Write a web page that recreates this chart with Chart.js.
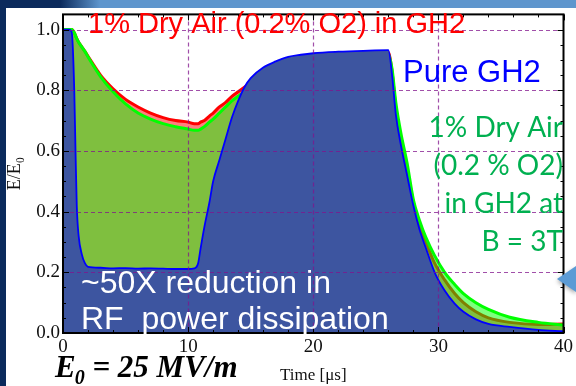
<!DOCTYPE html>
<html>
<head>
<meta charset="utf-8">
<script src="https://cdn.jsdelivr.net/npm/chart.js@4.4.0/dist/chart.umd.min.js"></script>
<style>
  html, body { margin: 0; padding: 0; background: #0b2a5c; }
  #wrap { position: relative; width: 576px; height: 386px; }
</style>
</head>
<body>
<div id="wrap"><canvas id="decayChart" width="576" height="386"></canvas></div>
<script>
// time axis in microseconds, shared by the three traces
const timeUs = [0, 0.5, 0.7, 0.9, 1.0, 1.1, 1.25, 1.5, 1.75, 2, 3, 4, 5, 6, 7, 8, 9, 10, 10.5, 10.8,
  11, 11.3, 11.7, 12, 12.5, 13, 13.5, 14, 14.5, 15, 16, 17, 18, 19, 20, 22, 24, 26, 26.3, 26.6,
  27, 27.5, 28, 28.5, 29, 29.7, 30.5, 31.3, 32, 33, 34, 35.7, 38, 40];

// E/E0, pure hydrogen
const pureGH2 = [1.0, 1.0, 0.99, 0.8, 0.6, 0.42, 0.32, 0.26, 0.23, 0.218, 0.215, 0.213, 0.214, 0.212, 0.213, 0.212, 0.211, 0.211, 0.213, 0.23,
  0.28, 0.35, 0.43, 0.50, 0.57, 0.64, 0.71, 0.765, 0.81, 0.84, 0.875, 0.895, 0.91, 0.917, 0.922, 0.927, 0.93, 0.932, 0.85, 0.72,
  0.62, 0.52, 0.42, 0.34, 0.28, 0.20, 0.14, 0.097, 0.07, 0.045, 0.03, 0.02, 0.01, 0.006];

// E/E0, 1% dry air (0.2% O2) in hydrogen
const dryAirO2 = [1.0, 1.0, 1.0, 0.99, 0.98, 0.97, 0.958, 0.943, 0.928, 0.912, 0.85, 0.805, 0.77, 0.745, 0.725, 0.71, 0.70, 0.695, 0.69, 0.69,
  0.695, 0.70, 0.715, 0.725, 0.745, 0.76, 0.78, 0.795, 0.81, 0.825, 0.855, 0.875, 0.89, 0.90, 0.905, 0.915, 0.92, 0.925, 0.86, 0.74,
  0.64, 0.54, 0.43, 0.355, 0.30, 0.23, 0.175, 0.13, 0.10, 0.07, 0.05, 0.035, 0.028, 0.03];

// E/E0, same gas mixture at B = 3T
const dryAir3T = [1.0, 1.0, 1.0, 0.99, 0.98, 0.97, 0.958, 0.943, 0.928, 0.91, 0.845, 0.795, 0.755, 0.725, 0.705, 0.69, 0.68, 0.672, 0.668, 0.668,
  0.672, 0.68, 0.695, 0.705, 0.725, 0.745, 0.765, 0.78, 0.795, 0.805, 0.835, 0.855, 0.87, 0.88, 0.89, 0.90, 0.91, 0.918, 0.87, 0.76,
  0.66, 0.56, 0.44, 0.37, 0.315, 0.255, 0.20, 0.16, 0.13, 0.10, 0.078, 0.052, 0.035, 0.026];

const xTicks = [0, 10, 20, 30, 40];
const yTicks = [0, 0.2, 0.4, 0.6, 0.8, 1.0];

const toPoints = vals => vals.map((v, i) => ({ x: timeUs[i], y: v }));

// slide background: navy edge, blue header strip, white panel
const backdrop = {
  id: 'backdrop',
  beforeDraw(chart) {
    const ctx = chart.ctx;
    ctx.save();
    ctx.fillStyle = '#0b2a5c';
    ctx.fillRect(0, 0, 576, 386);
    const g = ctx.createLinearGradient(60, 0, 100, 0);
    g.addColorStop(0, 'rgba(95,150,205,0)');
    g.addColorStop(1, 'rgba(95,150,205,1)');
    ctx.fillStyle = g;
    ctx.fillRect(60, 0, 516, 8);
    ctx.fillStyle = '#ffffff';
    ctx.fillRect(6, 8, 570, 378);
    ctx.restore();
  }
};

// dashed grid, framed box with inward ticks
const frame = {
  id: 'frame',
  afterDatasetsDraw(chart) {
    const { ctx, chartArea: a, scales: { x, y } } = chart;
    ctx.save();
    ctx.setLineDash([4, 3]);
    ctx.lineWidth = 1.2;
    ctx.strokeStyle = 'rgba(130,20,140,0.75)';
    xTicks.slice(1, -1).forEach(t => {
      const px = Math.round(x.getPixelForValue(t)) + 0.5;
      ctx.beginPath(); ctx.moveTo(px, a.top); ctx.lineTo(px, a.bottom); ctx.stroke();
    });
    yTicks.slice(1).forEach(t => {
      const py = Math.round(y.getPixelForValue(t)) + 0.5;
      ctx.beginPath(); ctx.moveTo(a.left, py); ctx.lineTo(a.right, py); ctx.stroke();
    });
    ctx.setLineDash([]);
    ctx.strokeStyle = '#000';
    ctx.lineWidth = 1;
    for (let t = 0; t <= 40; t += 2) {
      const px = Math.round(x.getPixelForValue(t)) + 0.5;
      const len = t % 10 === 0 ? 6 : 3;
      ctx.beginPath();
      ctx.moveTo(px, a.bottom); ctx.lineTo(px, a.bottom - len);
      ctx.moveTo(px, a.top); ctx.lineTo(px, a.top + len);
      ctx.stroke();
    }
    for (let k = 0; k <= 21; k++) {
      const py = Math.round(y.getPixelForValue(k * 0.05)) + 0.5;
      const len = k % 4 === 0 ? 6 : 3;
      ctx.beginPath();
      ctx.moveTo(a.left, py); ctx.lineTo(a.left + len, py);
      ctx.moveTo(a.right, py); ctx.lineTo(a.right - len, py);
      ctx.stroke();
    }
    ctx.lineWidth = 2;
    ctx.strokeRect(a.left, a.top, a.right - a.left, a.bottom - a.top);
    ctx.restore();
  }
};

// captions and the pointer arrow
const captions = {
  id: 'captions',
  afterDraw(chart) {
    const ctx = chart.ctx;
    ctx.save();
    ctx.textBaseline = 'alphabetic';

    ctx.fillStyle = '#ff0000';
    ctx.font = '29px "Liberation Sans", Arial, sans-serif';
    ctx.textAlign = 'left';
    ctx.fillText('1% Dry Air (0.2% O2) in GH2', 88, 33);

    ctx.fillStyle = '#0000ff';
    ctx.font = '31px "Liberation Sans", Arial, sans-serif';
    ctx.fillText('Pure GH2', 403, 82);

    ctx.fillStyle = '#00b050';
    ctx.font = '28px Lato, "Open Sans", sans-serif';
    ctx.textAlign = 'right';
    ['1% Dry Air', '(0.2 % O2)', 'in GH2 at', 'B = 3T'].forEach((s, i) => {
      ctx.fillText(s, 563, 137 + i * 38);
    });

    ctx.fillStyle = '#ffffff';
    ctx.font = '32px "Liberation Sans", Arial, sans-serif';
    ctx.textAlign = 'left';
    ctx.fillText('~50X reduction in', 81, 293);
    ctx.fillText('RF  power dissipation', 81, 329);

    ctx.fillStyle = '#000';
    ctx.font = 'italic bold 31px "Liberation Serif", "Times New Roman", serif';
    ctx.fillText('E', 55, 377);
    const ew = ctx.measureText('E').width;
    ctx.font = 'italic bold 20px "Liberation Serif", "Times New Roman", serif';
    ctx.fillText('0', 55 + ew - 1, 384);
    const zw = ctx.measureText('0').width;
    ctx.font = 'italic bold 31px "Liberation Serif", "Times New Roman", serif';
    ctx.fillText(' = 25 MV/m', 55 + ew + zw - 1, 377);

    ctx.fillStyle = '#5b9bd5';
    ctx.shadowColor = 'rgba(0,0,0,0.35)';
    ctx.shadowBlur = 4;
    ctx.shadowOffsetY = 2;
    ctx.beginPath();
    ctx.moveTo(557, 279);
    ctx.lineTo(576, 266);
    ctx.lineTo(576, 292);
    ctx.closePath();
    ctx.fill();
    ctx.restore();
  }
};

new Chart(document.getElementById('decayChart'), {
  type: 'line',
  data: {
    datasets: [
      {
        label: 'Pure GH2',
        data: toPoints(pureGH2),
        borderColor: '#0000ff',
        backgroundColor: '#3d55a0',
        borderWidth: 1.8,
        fill: 'origin'
      },
      {
        label: '1% Dry Air (0.2 % O2) in GH2 at B = 3T',
        data: toPoints(dryAir3T),
        borderColor: '#00ff00',
        backgroundColor: 'rgba(0,255,0,0.5)',
        borderWidth: 3,
        fill: 'origin'
      },
      {
        label: '1% Dry Air (0.2% O2) in GH2',
        data: toPoints(dryAirO2),
        borderColor: '#ff0000',
        backgroundColor: 'rgba(255,0,0,0.5)',
        borderWidth: 3,
        fill: 'origin'
      }
    ]
  },
  options: {
    responsive: false,
    animation: false,
    devicePixelRatio: 1,
    layout: { padding: { left: 0, top: 9, right: 9, bottom: 0 } },
    elements: {
      point: { radius: 0 },
      line: { cubicInterpolationMode: 'monotone' }
    },
    plugins: {
      legend: { display: false },
      tooltip: { enabled: false }
    },
    scales: {
      x: {
        type: 'linear',
        min: 0,
        max: 40,
        afterFit: s => { s.height = 53; },
        afterBuildTicks: s => { s.ticks = xTicks.map(v => ({ value: v })); },
        grid: { display: false, drawTicks: false },
        border: { display: false },
        ticks: {
          padding: 3,
          color: '#111',
          font: { family: '"Liberation Serif", serif', size: 19 }
        },
        title: {
          display: true,
          text: 'Time [μs]',
          color: '#111',
          font: { family: '"Liberation Serif", serif', size: 17 },
          padding: { top: 0, bottom: 0 }
        }
      },
      y: {
        min: 0,
        max: 1.05,
        afterFit: s => { s.width = 63; },
        afterBuildTicks: s => { s.ticks = yTicks.map(v => ({ value: v })); },
        grid: { display: false, drawTicks: false },
        border: { display: false },
        ticks: {
          padding: 3,
          color: '#111',
          callback: v => v.toFixed(1),
          font: { family: '"Liberation Serif", serif', size: 19 }
        },
        title: {
          display: true,
          text: 'E/E₀',
          color: '#111',
          font: { family: '"Liberation Serif", serif', size: 18 },
          padding: { top: 4, bottom: 0 }
        }
      }
    }
  },
  plugins: [backdrop, frame, captions]
});
</script>
</body>
</html>
